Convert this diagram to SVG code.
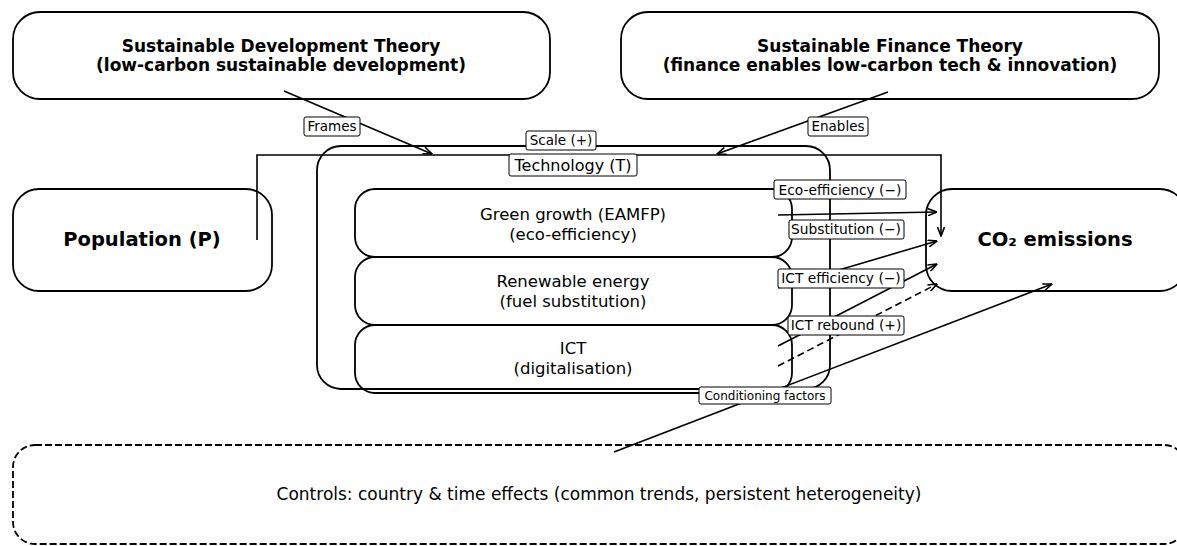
<svg xmlns="http://www.w3.org/2000/svg" width="1177" height="546" viewBox="0 0 1177 546">
<style>
  .box{fill:none;stroke:#000;stroke-width:1.8}
  .dash{fill:none;stroke:#000;stroke-width:1.8;stroke-dasharray:7,3}
  .ln{fill:none;stroke:#000;stroke-width:1.6}
  .lnd{fill:none;stroke:#000;stroke-width:1.6;stroke-dasharray:7,4}
  .t{font-family:"DejaVu Sans","Liberation Sans",sans-serif;fill:#000;text-anchor:middle}
  .tb{font-family:"DejaVu Sans","Liberation Sans",sans-serif;font-weight:bold;fill:#000;text-anchor:middle}
  .lb{fill:#fff;stroke:#000;stroke-width:1}
</style>
<defs>
  <marker id="ah" viewBox="0 0 10 8" refX="9.5" refY="4" markerWidth="10" markerHeight="8" markerUnits="userSpaceOnUse" orient="auto">
    <path d="M0.5,0.5 L9.5,4 L0.5,7.5" fill="none" stroke="#000" stroke-width="1.6"/>
  </marker>
</defs>
<rect width="1177" height="546" fill="#fff"/>

<g id="sdt">
  <rect class="box" x="13" y="12" width="537" height="87" rx="27" ry="27"/>
  <text class="tb" x="281" y="52" font-size="17">Sustainable Development Theory</text>
  <text class="tb" x="281" y="71" font-size="17">(low-carbon sustainable development)</text>
</g>
<g id="sft">
  <rect class="box" x="621" y="12" width="538" height="87" rx="27" ry="27"/>
  <text class="tb" x="890" y="52" font-size="17">Sustainable Finance Theory</text>
  <text class="tb" x="890" y="71" font-size="17">(finance enables low-carbon tech &amp; innovation)</text>
</g>
<g id="population">
  <rect class="box" x="13" y="189" width="259" height="102" rx="26" ry="26"/>
  <text class="tb" x="142" y="246" font-size="19.5">Population (P)</text>
</g>
<g id="co2">
  <rect class="box" x="926" y="189" width="260" height="102" rx="26" ry="26"/>
  <text class="tb" x="1055" y="246" font-size="19.5">CO₂ emissions</text>
</g>
<g id="technology">
  <rect class="box" x="317" y="146" width="513" height="243" rx="24" ry="24"/>
</g>
<g id="greengrowth">
  <rect class="box" x="355" y="189" width="437" height="68" rx="20" ry="20"/>
  <text class="t" x="573" y="220" font-size="16.5">Green growth (EAMFP)</text>
  <text class="t" x="573" y="240" font-size="16.5">(eco-efficiency)</text>
</g>
<g id="renewable">
  <rect class="box" x="355" y="257" width="437" height="68" rx="20" ry="20"/>
  <text class="t" x="573" y="287" font-size="16.5">Renewable energy</text>
  <text class="t" x="573" y="307" font-size="16.5">(fuel substitution)</text>
</g>
<g id="ict">
  <rect class="box" x="355" y="325" width="437" height="68" rx="20" ry="20"/>
  <text class="t" x="573" y="354" font-size="16.5">ICT</text>
  <text class="t" x="573" y="374" font-size="16.5">(digitalisation)</text>
</g>
<g id="controls">
  <rect class="dash" x="13" y="445" width="1173" height="99" rx="22" ry="22"/>
  <text class="t" x="599" y="500" font-size="17">Controls: country &amp; time effects (common trends, persistent heterogeneity)</text>
</g>

<g id="connectors">
  <line class="ln" x1="284" y1="91" x2="432" y2="154" marker-end="url(#ah)"/>
  <line class="ln" x1="888" y1="92" x2="717" y2="154" marker-end="url(#ah)"/>
  <polyline class="ln" points="257,240 257,155 941,155 941,236" marker-end="url(#ah)"/>
  <line class="ln" x1="778" y1="215" x2="937" y2="212" marker-end="url(#ah)"/>
  <line class="ln" x1="778" y1="288" x2="937" y2="241" marker-end="url(#ah)"/>
  <line class="ln" x1="778" y1="346" x2="937" y2="264" marker-end="url(#ah)"/>
  <line class="lnd" x1="778" y1="366" x2="937" y2="284" marker-end="url(#ah)"/>
  <line class="ln" x1="614" y1="452" x2="1052" y2="284" marker-end="url(#ah)"/>
</g>

<g id="labels">
  <rect class="lb" x="509" y="154" width="128" height="22" rx="2"/>
  <text class="t" x="573" y="171" font-size="16">Technology (T)</text>

  <rect class="lb" x="304" y="117" width="56" height="19" rx="2"/>
  <text class="t" x="332" y="131" font-size="13.5">Frames</text>

  <rect class="lb" x="808" y="117" width="60" height="19" rx="2"/>
  <text class="t" x="838" y="131" font-size="13.5">Enables</text>

  <rect class="lb" x="526" y="131" width="70" height="19" rx="2"/>
  <text class="t" x="561" y="145" font-size="13.5">Scale (+)</text>

  <rect class="lb" x="774" y="180" width="132" height="19" rx="2"/>
  <text class="t" x="840" y="195" font-size="13.8">Eco-efficiency (−)</text>

  <rect class="lb" x="789" y="220" width="115" height="19" rx="2"/>
  <text class="t" x="846" y="234" font-size="13.8">Substitution (−)</text>

  <rect class="lb" x="778" y="269" width="126" height="19" rx="2"/>
  <text class="t" x="841" y="283" font-size="13.8">ICT efficiency (−)</text>

  <rect class="lb" x="788" y="316" width="116" height="19" rx="2"/>
  <text class="t" x="846" y="330" font-size="13.8">ICT rebound (+)</text>

  <rect class="lb" x="699" y="387" width="132" height="17" rx="2"/>
  <text class="t" x="765" y="400" font-size="12">Conditioning factors</text>
</g>
</svg>
